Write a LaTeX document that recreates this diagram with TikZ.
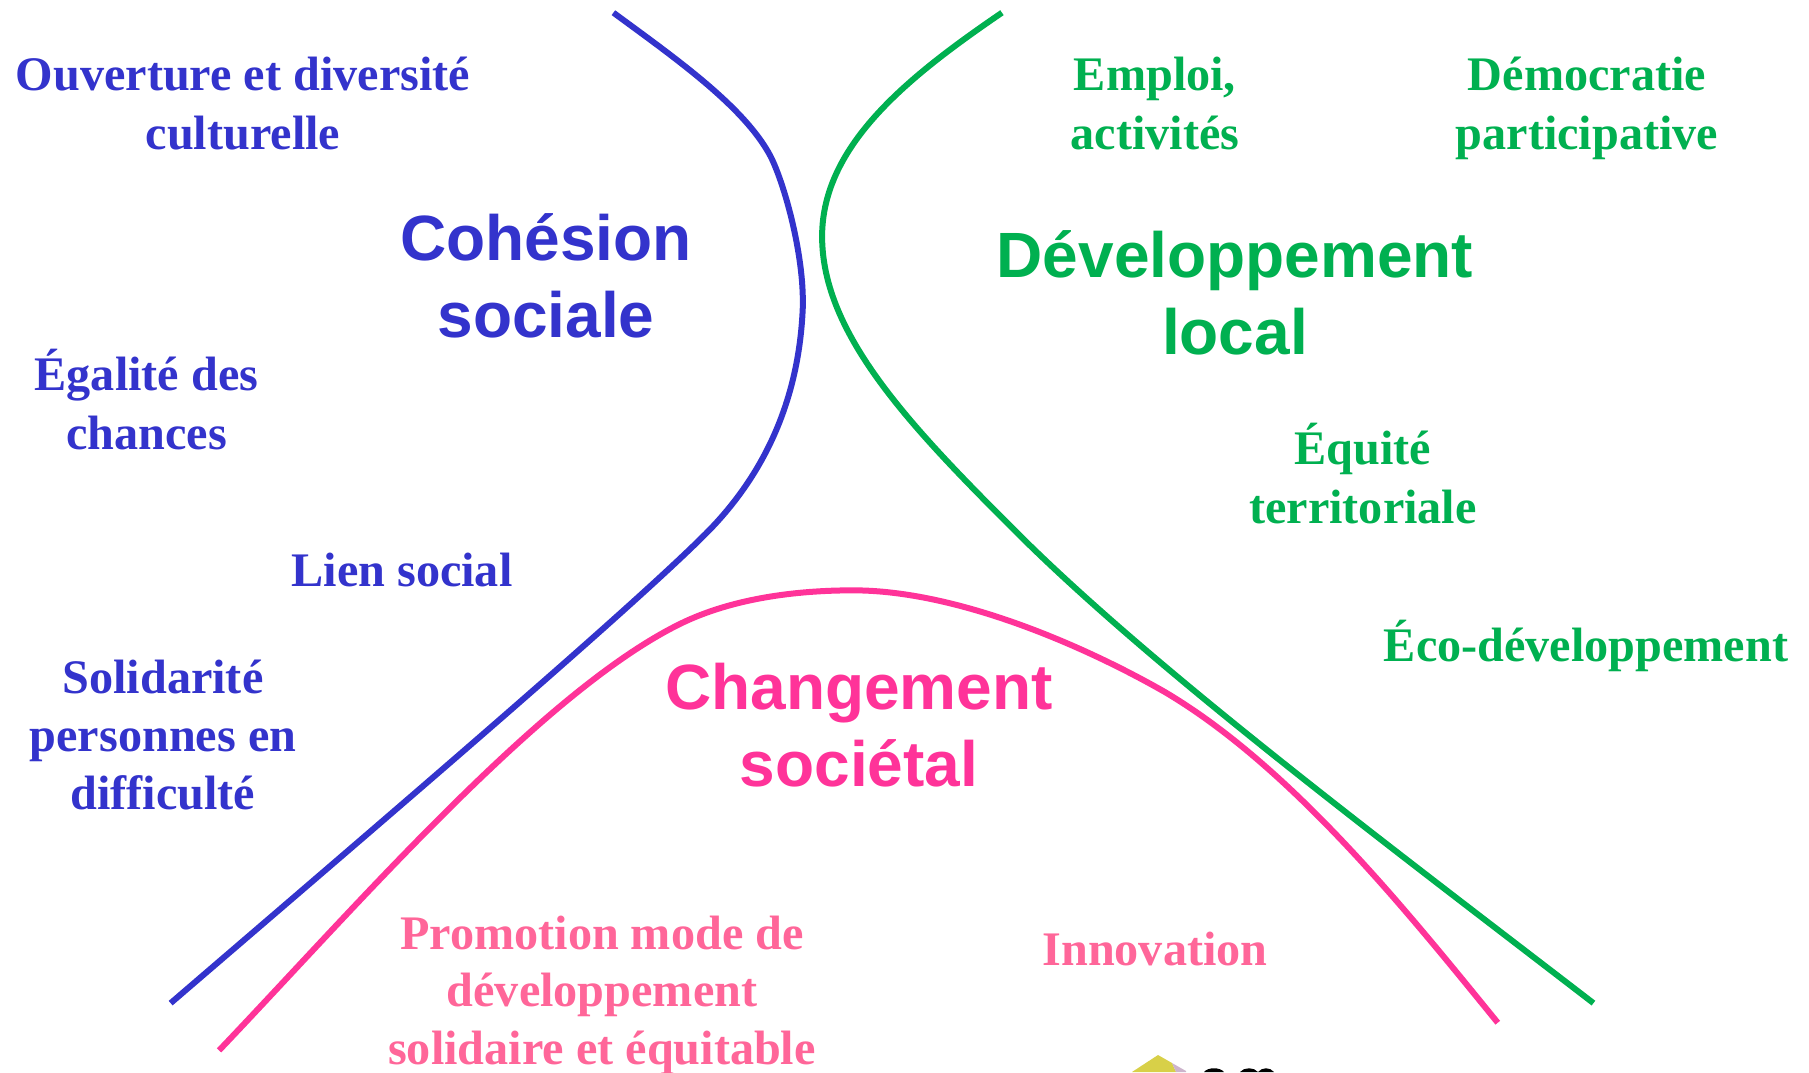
\documentclass[tikz,border=0pt]{standalone}
\usepackage{fontspec}
\setmainfont{Liberation Serif}
\newfontfamily\headfont{Liberation Sans}
\definecolor{cblue}{HTML}{3333CC}
\definecolor{cgreen}{HTML}{00B050}
\definecolor{cpink}{HTML}{FF3399}
\definecolor{lpink}{HTML}{FF6699}
\definecolor{logoy}{HTML}{D8D048}
\definecolor{logol}{HTML}{CDB4CC}
\tikzset{
  curve/.style={line width=6pt},
  small/.style={font=\fontsize{48.2}{59}\selectfont\bfseries,align=center,inner sep=0pt},
  tight/.style={font=\fontsize{48.2}{57.6}\selectfont\bfseries,align=center,inner sep=0pt},
  head/.style={font=\headfont\fontsize{64}{77}\selectfont\bfseries,align=center,inner sep=0pt},
}
\begin{document}
\begin{tikzpicture}[x=1pt,y=-1pt]
\useasboundingbox (0,0) rectangle (1809,1072);
\fill[white] (0,0) rectangle (1809,1072);
% curves, in units of 1/1.153 px
\begin{scope}[x=1.153pt,y=-1.153pt]
\draw[curve,cblue] (532,11) .. controls (585,50) and (645,92) .. (668,135)
  .. controls (680,158) and (699,225) .. (696,272)
  .. controls (692,345) and (665,410) .. (612,463)
  .. controls (545,530) and (340,705) .. (148,870);
\draw[curve,cgreen] (869,11) .. controls (790,65) and (713,125) .. (713,205)
  .. controls (713,290) and (790,370) .. (880,460)
  .. controls (1000,580) and (1200,730) .. (1382,870);
\draw[curve,cpink] (190,911) .. controls (310,785) and (470,600) .. (590,541)
  .. controls (635,519) and (690,512) .. (740,512)
  .. controls (830,512) and (940,560) .. (1010,600)
  .. controls (1120,665) and (1220,790) .. (1299,887);
\end{scope}
% texts
\node[small,text=cblue] (a1) at (243,104) {Ouverture et diversité\\culturelle};
\node[small,text=cblue] (a2) at (146.5,400) {Égalité des\\chances};
\node[small,text=cblue] (a3) at (402,570) {Lien social};
\node[tight,text=cblue] (a4) at (163,735) {Solidarité\\personnes en\\difficulté};
\node[head,text=cblue] (h1) at (546,276) {Cohésion\\sociale};
\node[small,text=cgreen] (b1) at (1155,104) {Emploi,\\activités};
\node[small,text=cgreen] (b2) at (1587,108) {Démocratie\\participative};
\node[small,text=cgreen] (b3) at (1363,474) {Équité\\territoriale};
\node[small,text=cgreen] (b4) at (1586,646) {Éco-développement};
\node[head,text=cgreen] (h2) at (1235,293) {Développement\\local};
\node[head,text=cpink] (h3) at (859,725) {Changement\\sociétal};
\node[tight,text=lpink] (c1) at (602,995) {Promotion mode de\\développement\\solidaire et équitable};
\node[small,text=lpink] (c2) at (1155,949) {Innovation};
% logo cut by the edge
\fill[logoy] (1132,1072) -- (1158,1055) -- (1172,1063) -- (1176,1072) -- cycle;
\fill[logol] (1172,1063) -- (1186,1071) -- (1186,1072) -- (1176,1072) -- cycle;
\fill[black] (1204,1072) .. controls (1208,1067) and (1220,1067) .. (1224,1072) -- cycle;
\fill[black] (1240,1072) .. controls (1244,1067) and (1254,1067) .. (1258,1072) -- cycle;
\fill[black] (1258,1072) .. controls (1262,1067) and (1270,1067) .. (1274,1072) -- cycle;
\end{tikzpicture}
\end{document}
